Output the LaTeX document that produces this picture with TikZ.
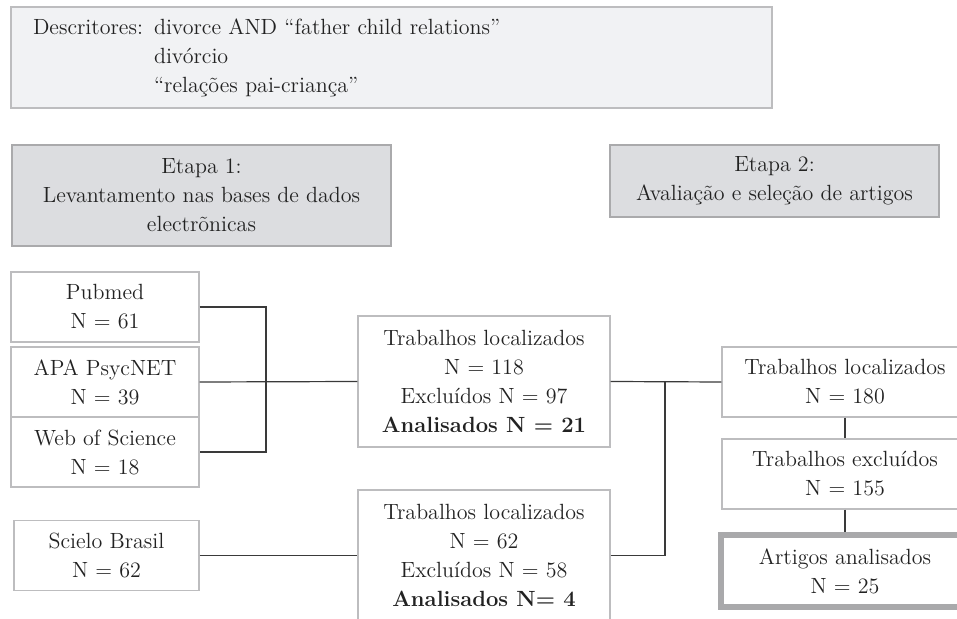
\documentclass[tikz,border=0pt]{standalone}
\usepackage{fontspec}
\usetikzlibrary{positioning}
\definecolor{descfill}{HTML}{F1F2F4}
\definecolor{stepfill}{HTML}{DCDDE0}
\definecolor{boxline}{HTML}{BDBDBF}
\definecolor{linkgray}{HTML}{3A3A3A}
\definecolor{finalline}{HTML}{A9A9AB}
\definecolor{textgray}{HTML}{222222}
\tikzset{
  basebox/.style={draw=boxline, line width=0.6pt, fill=white, align=center,
    inner sep=0pt, text=textgray, font=\fontsize{11}{14.5}\selectfont},
  stepbox/.style={basebox, fill=stepfill, draw=boxline!90!black},
  srcbox/.style={basebox, minimum width=94pt, minimum height=35pt},
  midbox/.style={basebox, minimum width=126pt, minimum height=65.5pt},
  resbox/.style={basebox, minimum width=123pt, minimum height=35pt},
  finalbox/.style={basebox, draw=finalline, line width=3pt, minimum width=124pt, minimum height=36pt},
  link/.style={draw=linkgray, line width=0.6pt}
}
\begin{document}
\begin{tikzpicture}[x=0.5pt, y=-0.5pt]
  \clip (0,0) rectangle (957,619);
  \fill[white] (0,0) rectangle (957,619);
  % Descritores
  \node[basebox, fill=descfill, align=left, text width=358.5pt, inner xsep=11pt,
    minimum height=50.5pt] (desc) at (391.5,57.5)
    {\begin{tabular}{@{}l@{ }l@{}}
      Descritores: & divorce AND “father child relations” \\
                   & divórcio \\
                   & “relações pai-criança”
     \end{tabular}};
  % Etapas
  \node[stepbox, minimum width=189.5pt, minimum height=50.5pt] (etapa1) at (201.5,195.5)
    {Etapa 1:\\Levantamento nas bases de dados\\electrõnicas};
  \node[stepbox, minimum width=164.5pt, minimum height=36pt] (etapa2) at (774.5,181)
    {Etapa 2:\\Avaliação e seleção de artigos};
  % Bases de dados
  \node[srcbox] (pubmed) at (105,307) {Pubmed\\N = 61};
  \node[srcbox] (apa) at (105,382) {APA PsycNET\\N = 39};
  \node[srcbox] (web) at (105,452) {Web of Science\\N = 18};
  \node[srcbox, minimum width=92.5pt] (scielo) at (106.5,555.5) {Scielo Brasil\\N = 62};
  % Trabalhos localizados por grupo
  \node[midbox] (mid1) at (484,381.5)
    {Trabalhos localizados\\N = 118\\Excluídos N = 97\\\textbf{Analisados N = 21}};
  \node[midbox] (mid2) at (484,555.5)
    {Trabalhos localizados\\N = 62\\Excluídos N = 58\\\textbf{Analisados N= 4}};
  % Etapa 2
  \node[resbox] (loc) at (845,382) {Trabalhos localizados\\N = 180};
  \node[resbox] (exc) at (845,474) {Trabalhos excluídos\\N = 155};
  \node[finalbox] (art) at (845,571) {Artigos analisados\\N = 25};
  % Conectores
  \coordinate (jleft) at (266,382);
  \coordinate (jright) at (665,382);
  \draw[link] (pubmed.east) -| (jleft) |- (web.east);
  \draw[link] (apa.east) -- (mid1.west);
  \draw[link] (scielo.east) -- (mid2.west);
  \draw[link] (mid1.east) -- (loc.west);
  \draw[link] (mid2.east) -| (jright);
  \draw[link] (loc.south) -- (exc.north);
  \draw[link] (exc.south) -- (art.north);
\end{tikzpicture}
\end{document}
